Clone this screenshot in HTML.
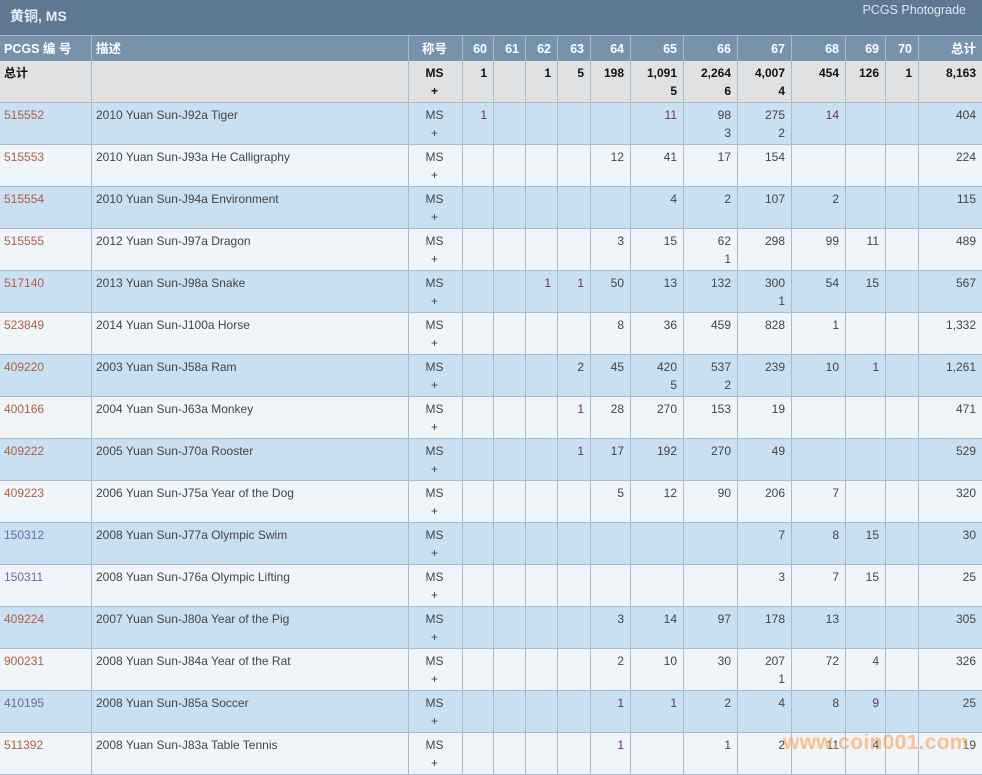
<!DOCTYPE html>
<html><head><meta charset="utf-8"><style>
*{margin:0;padding:0}
body{width:982px;height:770px;overflow:hidden;background:#f0f5fa;font-family:"Liberation Sans","Noto Sans CJK SC",sans-serif;font-size:12px;color:#444;position:relative}
.title{height:35px;background:#5e7893;color:#e8eef4;position:relative}
.title b{position:absolute;left:10px;top:6px;font-size:14px}
.title span{position:absolute;right:16px;top:3px;font-size:12.5px;color:#dfe7ef}
table{border-collapse:separate;border-spacing:0;table-layout:fixed;width:982px}
td,th{box-sizing:border-box;border-right:1px solid #a9bccf;border-bottom:1px solid #a9bccf;vertical-align:top;text-align:right;padding:3px 6px 0 4px;line-height:18px;overflow:hidden;white-space:nowrap}
th{height:26px;background:#7793ab;color:#fff;font-weight:bold;font-size:12.5px;padding-top:4px;border-top:1px solid #a9bccf;border-bottom:none}
td{height:42px}
tr.t td{background:#e0e1e3;color:#111;font-weight:bold}
tr.b td{background:#c9dff2}
tr.w td{background:#f0f5fa}
.l{text-align:left}
.c{text-align:center}
a{color:#b0603c;text-decoration:none}
a.v{color:#6a6aa8}
.p{color:#6a2a80}
.wm{position:absolute;left:783px;top:731px;font-size:21px;font-weight:bold;color:rgba(250,160,70,.6);letter-spacing:0.3px}
</style></head><body>
<div class="title"><b>黄铜, MS</b><span>PCGS Photograde</span></div>
<table>
<colgroup><col style="width:92px"><col style="width:317px"><col style="width:54px"><col style="width:31px"><col style="width:32px"><col style="width:32px"><col style="width:33px"><col style="width:40px"><col style="width:53px"><col style="width:54px"><col style="width:54px"><col style="width:54px"><col style="width:40px"><col style="width:33px"><col style="width:64px"></colgroup>
<tr><th class="l">PCGS 编 号</th><th class="l">描述</th><th class="c">称号</th><th>60</th><th>61</th><th>62</th><th>63</th><th>64</th><th>65</th><th>66</th><th>67</th><th>68</th><th>69</th><th>70</th><th>总计</th></tr>
<tr class="t"><td class="l">总计</td><td></td><td class="c">MS<br>+</td><td>1</td><td></td><td>1</td><td>5</td><td>198</td><td>1,091<br>5</td><td>2,264<br>6</td><td>4,007<br>4</td><td>454</td><td>126</td><td>1</td><td>8,163</td></tr>
<tr class="b"><td class="l"><a>515552</a></td><td class="l">2010 Yuan Sun-J92a Tiger</td><td class="c">MS<br>+</td><td class="p">1</td><td></td><td></td><td></td><td></td><td class="p">11</td><td>98<br>3</td><td>275<br>2</td><td class="p">14</td><td></td><td></td><td>404</td></tr>
<tr class="w"><td class="l"><a>515553</a></td><td class="l">2010 Yuan Sun-J93a He Calligraphy</td><td class="c">MS<br>+</td><td></td><td></td><td></td><td></td><td>12</td><td>41</td><td>17</td><td>154</td><td></td><td></td><td></td><td>224</td></tr>
<tr class="b"><td class="l"><a>515554</a></td><td class="l">2010 Yuan Sun-J94a Environment</td><td class="c">MS<br>+</td><td></td><td></td><td></td><td></td><td></td><td>4</td><td>2</td><td>107</td><td>2</td><td></td><td></td><td>115</td></tr>
<tr class="w"><td class="l"><a>515555</a></td><td class="l">2012 Yuan Sun-J97a Dragon</td><td class="c">MS<br>+</td><td></td><td></td><td></td><td></td><td>3</td><td>15</td><td>62<br>1</td><td>298</td><td>99</td><td>11</td><td></td><td>489</td></tr>
<tr class="b"><td class="l"><a>517140</a></td><td class="l">2013 Yuan Sun-J98a Snake</td><td class="c">MS<br>+</td><td></td><td></td><td class="p">1</td><td class="p">1</td><td>50</td><td>13</td><td>132</td><td>300<br>1</td><td>54</td><td>15</td><td></td><td>567</td></tr>
<tr class="w"><td class="l"><a>523849</a></td><td class="l">2014 Yuan Sun-J100a Horse</td><td class="c">MS<br>+</td><td></td><td></td><td></td><td></td><td>8</td><td>36</td><td>459</td><td>828</td><td>1</td><td></td><td></td><td>1,332</td></tr>
<tr class="b"><td class="l"><a>409220</a></td><td class="l">2003 Yuan Sun-J58a Ram</td><td class="c">MS<br>+</td><td></td><td></td><td></td><td>2</td><td>45</td><td>420<br>5</td><td>537<br>2</td><td>239</td><td>10</td><td class="p">1</td><td></td><td>1,261</td></tr>
<tr class="w"><td class="l"><a>400166</a></td><td class="l">2004 Yuan Sun-J63a Monkey</td><td class="c">MS<br>+</td><td></td><td></td><td></td><td class="p">1</td><td>28</td><td>270</td><td>153</td><td>19</td><td></td><td></td><td></td><td>471</td></tr>
<tr class="b"><td class="l"><a>409222</a></td><td class="l">2005 Yuan Sun-J70a Rooster</td><td class="c">MS<br>+</td><td></td><td></td><td></td><td class="p">1</td><td>17</td><td>192</td><td>270</td><td>49</td><td></td><td></td><td></td><td>529</td></tr>
<tr class="w"><td class="l"><a>409223</a></td><td class="l">2006 Yuan Sun-J75a Year of the Dog</td><td class="c">MS<br>+</td><td></td><td></td><td></td><td></td><td>5</td><td>12</td><td>90</td><td>206</td><td>7</td><td></td><td></td><td>320</td></tr>
<tr class="b"><td class="l"><a class="v">150312</a></td><td class="l">2008 Yuan Sun-J77a Olympic Swim</td><td class="c">MS<br>+</td><td></td><td></td><td></td><td></td><td></td><td></td><td></td><td>7</td><td>8</td><td>15</td><td></td><td>30</td></tr>
<tr class="w"><td class="l"><a class="v">150311</a></td><td class="l">2008 Yuan Sun-J76a Olympic Lifting</td><td class="c">MS<br>+</td><td></td><td></td><td></td><td></td><td></td><td></td><td></td><td>3</td><td>7</td><td>15</td><td></td><td>25</td></tr>
<tr class="b"><td class="l"><a>409224</a></td><td class="l">2007 Yuan Sun-J80a Year of the Pig</td><td class="c">MS<br>+</td><td></td><td></td><td></td><td></td><td>3</td><td>14</td><td>97</td><td>178</td><td>13</td><td></td><td></td><td>305</td></tr>
<tr class="w"><td class="l"><a>900231</a></td><td class="l">2008 Yuan Sun-J84a Year of the Rat</td><td class="c">MS<br>+</td><td></td><td></td><td></td><td></td><td>2</td><td>10</td><td>30</td><td>207<br>1</td><td>72</td><td>4</td><td></td><td>326</td></tr>
<tr class="b"><td class="l"><a class="v">410195</a></td><td class="l">2008 Yuan Sun-J85a Soccer</td><td class="c">MS<br>+</td><td></td><td></td><td></td><td></td><td class="p">1</td><td class="p">1</td><td>2</td><td>4</td><td>8</td><td class="p">9</td><td></td><td>25</td></tr>
<tr class="w"><td class="l"><a>511392</a></td><td class="l">2008 Yuan Sun-J83a Table Tennis</td><td class="c">MS<br>+</td><td></td><td></td><td></td><td></td><td class="p">1</td><td></td><td>1</td><td>2</td><td>11</td><td>4</td><td></td><td>19</td></tr>
</table>
<div class="wm">www.coin001.com</div>
</body></html>
